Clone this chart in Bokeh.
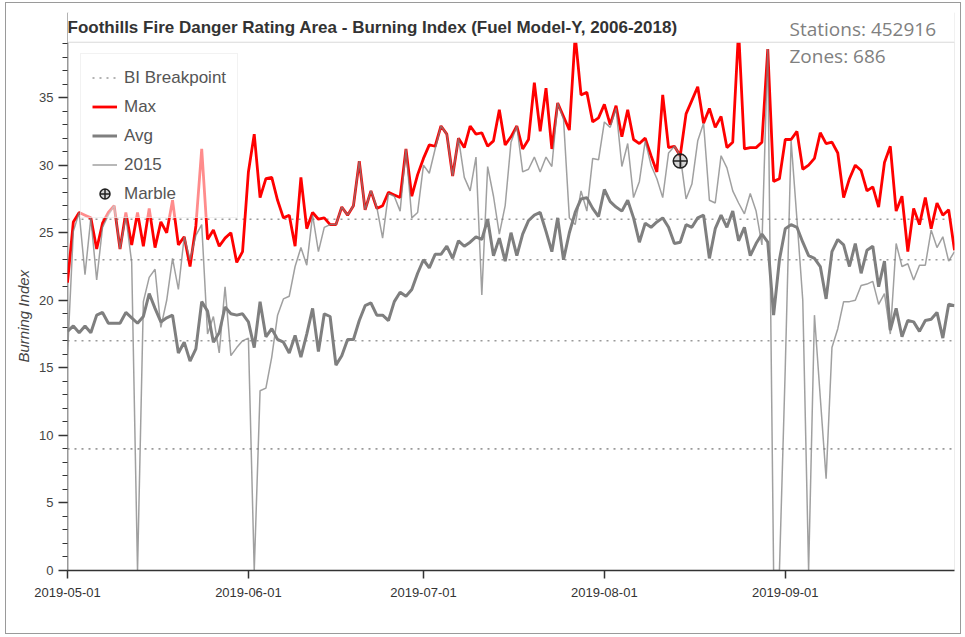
import pandas as pd
from bokeh.plotting import figure
from bokeh.models import (FixedTicker, DatetimeTickFormatter, Label, Range1d,
                          ColumnDataSource, Span, Title)
from bokeh.embed import file_html
from bokeh.resources import INLINE

# ---------------- data ----------------
start_date = "2019-05-01"
end_date = "2019-09-30"

max_values = [
    21.3, 25.8, 26.5, 26.3, 26.1, 23.8, 25.7, 26.5, 27.0, 23.8,
    26.5, 24.1, 26.5, 24.0, 26.8, 23.9, 25.8, 25.0, 27.4, 24.1,
    24.7, 22.5, 25.5, 31.2, 24.5, 25.2, 24.0, 24.6, 25.0, 22.8,
    23.6, 29.5, 32.3, 27.6, 29.0, 29.1, 27.4, 26.1, 26.3, 24.0,
    29.1, 25.3, 26.5, 26.0, 26.1, 25.6, 25.6, 26.9, 26.3, 27.0,
    30.3, 26.7, 28.1, 26.8, 27.0, 28.0, 27.8, 27.6, 31.2, 27.7,
    29.3, 30.5, 31.5, 31.4, 32.9, 32.3, 29.2, 32.0, 31.3, 32.9,
    32.3, 32.4, 31.4, 31.8, 34.1, 31.5, 32.1, 32.9, 31.2, 31.9,
    36.1, 32.5, 35.7, 31.2, 34.6, 33.6, 32.6, 39.6, 35.2, 35.4,
    33.2, 33.5, 34.5, 33.0, 34.4, 32.1, 34.1, 31.9, 31.6, 32.0,
    30.7, 29.5, 35.2, 31.3, 31.4, 30.7, 33.8, 34.8, 35.8, 33.1,
    34.2, 32.8, 33.6, 31.3, 31.7, 40.0, 31.2, 31.3, 31.3, 31.7,
    38.6, 28.8, 29.0, 31.9, 31.9, 32.5, 29.7, 30.0, 30.5, 32.4,
    31.6, 31.7, 30.9, 27.6, 29.0, 30.0, 29.6, 28.1, 28.4, 26.9,
    30.2, 31.4, 26.6, 27.7, 23.6, 26.8, 25.6, 27.6, 25.3, 27.2,
    26.3, 26.7, 23.7,
]

avg_values = [
    17.7, 18.1, 17.6, 18.1, 17.6, 18.9, 19.1, 18.3, 18.3, 18.3,
    19.1, 18.7, 18.3, 18.8, 20.5, 19.4, 18.4, 18.7, 18.9, 16.1,
    16.9, 15.5, 16.4, 19.9, 19.2, 16.9, 17.6, 19.5, 19.0, 18.9,
    19.0, 18.4, 16.5, 19.9, 17.3, 17.9, 17.1, 16.9, 16.1, 17.4,
    15.8, 17.5, 19.4, 16.2, 19.0, 18.8, 15.2, 15.9, 17.1, 17.1,
    18.5, 19.6, 19.8, 18.9, 18.9, 18.5, 19.9, 20.6, 20.3, 20.8,
    22.0, 23.0, 22.4, 23.4, 23.4, 24.0, 23.1, 24.4, 24.0, 24.3,
    24.7, 24.5, 26.0, 23.3, 24.6, 22.9, 25.0, 23.3, 24.9, 25.9,
    26.3, 26.5, 25.1, 23.6, 26.1, 23.0, 25.0, 26.5, 27.5, 27.6,
    26.8, 26.2, 28.2, 27.3, 26.9, 26.6, 27.4, 26.1, 24.3, 25.7,
    25.4, 25.8, 26.1, 25.4, 24.2, 24.3, 25.6, 25.4, 26.1, 26.3,
    23.1, 25.3, 26.3, 25.4, 26.6, 24.4, 25.4, 23.3, 24.2, 24.9,
    24.3, 18.9, 23.0, 25.3, 25.6, 25.4, 24.3, 23.3, 23.1, 22.5,
    20.1, 23.6, 24.5, 24.1, 22.5, 24.2, 22.0, 23.7, 24.0, 21.0,
    22.9, 17.8, 19.4, 17.3, 18.5, 18.4, 17.7, 18.5, 18.6, 19.1,
    17.2, 19.7, 19.6,
]

y2015_values = [
    16.0, 25.1, 26.5, 21.9, 26.1, 21.5, 25.4, 26.3, 27.0, 23.8,
    26.2, 22.8, 0.0, 19.9, 21.7, 22.3, 18.0, 20.0, 23.1, 20.8,
    24.7, 23.0, 24.8, 25.6, 17.5, 18.8, 16.1, 21.0, 15.9, 16.5,
    17.0, 17.2, 0.0, 13.3, 13.5, 15.8, 18.9, 20.1, 20.3, 22.5,
    23.9, 22.6, 26.3, 23.6, 25.4, 25.6, 25.6, 26.9, 26.3, 27.0,
    30.3, 26.7, 28.1, 26.9, 24.6, 27.9, 27.7, 26.6, 31.2, 26.1,
    26.5, 30.0, 29.4, 31.2, 32.9, 32.3, 29.2, 32.0, 29.1, 28.1,
    30.6, 20.4, 29.9, 27.7, 24.9, 27.0, 31.7, 32.9, 29.5, 29.7,
    30.6, 29.5, 30.6, 29.9, 34.6, 33.4, 26.1, 25.6, 28.1, 26.6,
    30.5, 30.4, 33.2, 32.8, 34.2, 29.9, 31.6, 27.6, 28.8, 31.8,
    30.0, 29.0, 27.6, 30.9, 31.4, 30.7, 27.5, 28.6, 31.8, 33.1,
    27.4, 27.2, 30.7, 29.8, 28.1, 27.2, 26.4, 27.9, 26.6, 24.1,
    38.6, 0.0, 0.0, 15.0, 31.8, 26.0, 20.0, 0.0, 18.9, 12.8,
    6.8, 16.5, 17.9, 19.9, 19.9, 20.0, 21.1, 21.2, 21.4, 19.7,
    20.5, 17.5, 24.2, 22.5, 22.7, 21.5, 22.6, 22.6, 25.2, 23.9,
    24.7, 22.9, 23.6,
]

breakpoints = [9, 17, 23, 26]
marble_dates = ["2019-08-14"]
marble_values = [30.3]
month_ticks = ["2019-05-01", "2019-06-01", "2019-07-01", "2019-08-01", "2019-09-01"]
y_major_ticks = [0, 5, 10, 15, 20, 25, 30, 35]
y_minor_ticks = list(range(0, 40))
y_visible_max = 39.1     # top edge of the plotting box
y_canvas_max = 41.3      # extra head-room used for the header texts

title_text = "Foothills Fire Danger Rating Area - Burning Index (Fuel Model-Y, 2006-2018)"
stations_text = "Stations: 452916"
zones_text = "Zones: 686"
y_label = "Burning Index"

# ---------------- figure ----------------
dates = pd.date_range(start_date, end_date, freq="D")
src = ColumnDataSource(dict(date=dates, mx=max_values, avg=avg_values, y15=y2015_values))

p = figure(width=956, height=632, x_axis_type="datetime",
           output_backend="svg", toolbar_location=None,
           x_range=Range1d(dates[0], dates[-1]),
           y_range=Range1d(0, y_canvas_max),
           min_border_left=61, min_border_right=8, min_border_top=9,
           min_border_bottom=65,
           styles={"border": "1px solid #9a9a9a", "margin-left": "5px",
                   "margin-top": "2px"})
p.title.text = ""
p.grid.visible = False
p.outline_line_color = None
p.background_fill_color = "white"
p.border_fill_color = "white"

# box edges (left axis line, right and top edges)
p.add_layout(Span(location=dates[0], dimension="height", line_color="#333333",
                  line_width=1.5, level="underlay"))
p.add_layout(Span(location=dates[-1], dimension="height", line_color="#d9d9d9",
                  line_width=1, level="underlay"))

# breakpoints
bp_xs = [[dates[0], dates[-1]] for _ in breakpoints]
bp_ys = [[b, b] for b in breakpoints]
p.multi_line(xs=bp_xs, ys=bp_ys, line_color="#9a9a9a", line_width=1.6,
             line_dash="2 5", legend_label="BI Breakpoint")

p.line("date", "mx", source=src, line_color="#ff0000", line_width=2.8,
       legend_label="Max")
p.line("date", "avg", source=src, line_color="#7f7f7f", line_width=3,
       legend_label="Avg")
p.line("date", "y15", source=src, line_color="#808080", line_alpha=0.75,
       line_width=1.5, legend_label="2015")
p.scatter(x=pd.to_datetime(marble_dates), y=marble_values, marker="circle_cross",
          size=14, line_color="#222222", line_width=1.5, fill_color="#888888",
          fill_alpha=0.35, legend_label="Marble")

# white head-room above the box (hides the part of the lines above the box)
p.quad(left=dates[0], right=dates[-1], bottom=y_visible_max, top=y_canvas_max,
       fill_color="white", line_color=None)
p.add_layout(Span(location=y_visible_max, dimension="width", line_color="#d9d9d9",
                  line_width=1))

# axes
p.xaxis.ticker = FixedTicker(ticks=[pd.Timestamp(t).timestamp() * 1000 for t in month_ticks])
fmt = "%Y-%m-%d"
p.xaxis.formatter = DatetimeTickFormatter(days=fmt, months=fmt, years=fmt, hours=fmt,
                                          minutes=fmt, seconds=fmt, milliseconds=fmt,
                                          microseconds=fmt, minsec=fmt, hourmin=fmt)
p.xaxis.major_tick_in = 0
p.xaxis.major_tick_out = 8
p.xaxis.major_label_standoff = 9
p.xaxis.major_label_text_font = "Liberation Sans"
p.xaxis.major_label_text_font_size = "13px"
p.xaxis.major_label_text_color = "#333333"
p.xaxis.axis_line_color = "#333333"
p.xaxis.axis_line_width = 1.5
p.xaxis.major_tick_line_color = "#333333"
p.xaxis.major_tick_line_width = 1.5
p.xaxis.minor_tick_line_color = None

p.yaxis.ticker = FixedTicker(ticks=y_major_ticks, minor_ticks=y_minor_ticks)
p.yaxis.axis_line_color = None
p.yaxis.major_tick_in = 0
p.yaxis.major_tick_out = 9
p.yaxis.minor_tick_in = 0
p.yaxis.minor_tick_out = 5
p.yaxis.major_tick_line_color = "#333333"
p.yaxis.major_tick_line_width = 1.5
p.yaxis.minor_tick_line_color = "#333333"
p.yaxis.minor_tick_line_width = 1.2
p.yaxis.major_label_text_font = "Liberation Sans"
p.yaxis.major_label_text_font_size = "13px"
p.yaxis.major_label_text_color = "#444444"

p.add_layout(Title(text=y_label, align="left", offset=208,
                   text_font="Liberation Sans", text_font_size="15px",
                   text_font_style="italic", text_color="#444444"), "left")

# legend
lg = p.legend[0]
lg.location = (13, 352)
lg.margin = 0
lg.padding = 11
lg.spacing = 4
lg.glyph_width = 25
lg.glyph_height = 25
lg.label_height = 25
lg.label_standoff = 7
lg.label_text_font = "Liberation Sans"
lg.label_text_font_size = "17px"
lg.label_text_color = "#555555"
lg.background_fill_color = "white"
lg.background_fill_alpha = 0.55
lg.border_line_color = "#e6e6e6"
lg.border_line_width = 1

# header texts
p.add_layout(Label(x=0, y=543, x_units="screen", y_units="screen",
                   text=title_text, text_font="Liberation Sans",
                   text_font_size="17px", text_font_style="bold",
                   text_color="#333333", text_baseline="middle"))
p.add_layout(Label(x=722, y=542, x_units="screen", y_units="screen",
                   text=stations_text, text_font="Open Sans",
                   text_font_size="19px", text_color="#808080",
                   text_baseline="middle"))
p.add_layout(Label(x=722, y=515, x_units="screen", y_units="screen",
                   text=zones_text, text_font="Open Sans",
                   text_font_size="19px", text_color="#808080",
                   text_baseline="middle"))

open("out.html", "w").write(file_html(p, INLINE))
